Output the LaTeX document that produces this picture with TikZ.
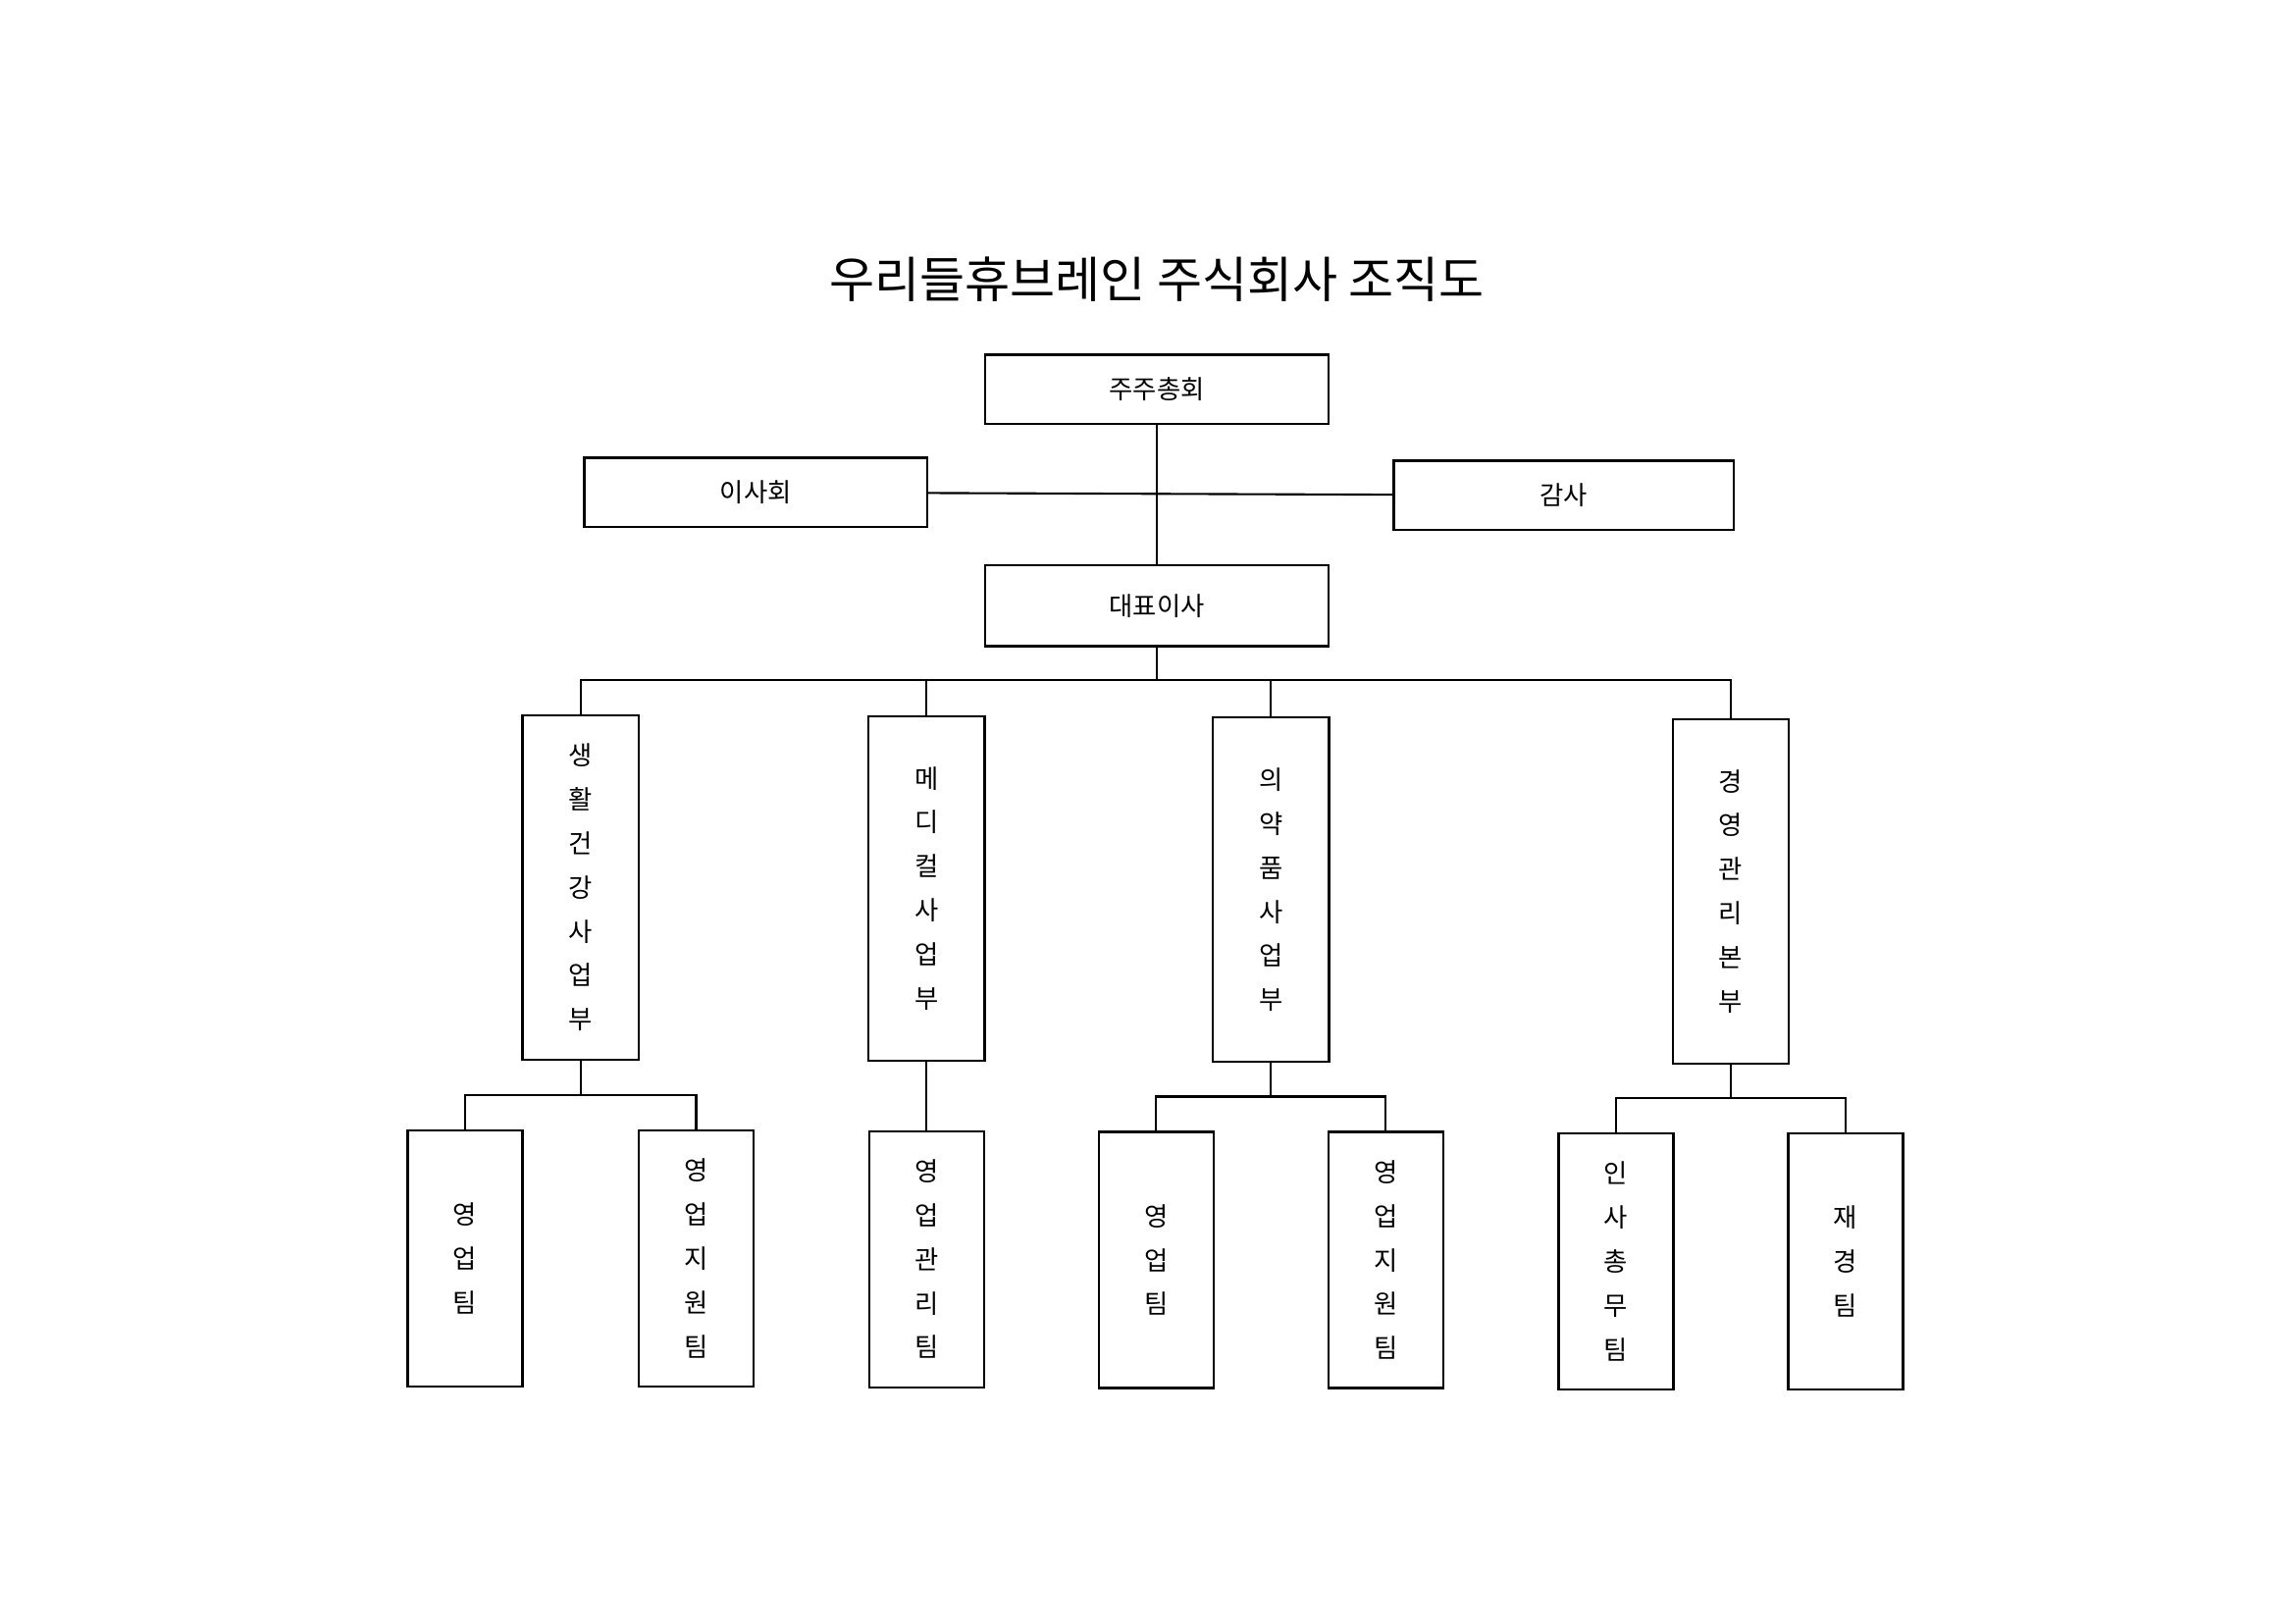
\documentclass[tikz,border=0pt]{standalone}
\usepackage{fontspec}
\setmainfont{Noto Sans CJK KR}
\begin{document}
\begin{tikzpicture}[x=0.02cm,y=-0.02cm,
    box/.style={draw,thick,inner sep=0pt,font=\fontsize{10}{17}\selectfont,align=center},
    wide/.style={box,minimum width=4.66cm,minimum height=0.94cm},
    dept/.style={box,minimum width=1.58cm,minimum height=4.68cm},
    team/.style={box,minimum width=1.56cm,minimum height=3.48cm}]
    \useasboundingbox (0,0) rectangle (1560,1103);
    \node[font=\fontsize{19}{22}\selectfont] (title) at (786,190) {우리들휴브레인 주식회사 조직도};
    \node[wide] (gm) at (786,264.5) {주주총회};
    \node[wide] (board) at (513.5,334.5) {이사회};
    \node[wide,minimum width=4.62cm] (audit) at (1062.5,336.5) {감사};
    \node[wide,minimum height=1.1cm] (ceo) at (786,411.5) {대표이사};
    \node[dept] (d1) at (394.5,603) {생\\활\\건\\강\\사\\업\\부};
    \node[dept] (d2) at (629.5,603.5) {메\\디\\컬\\사\\업\\부};
    \node[dept] (d3) at (863.5,604.5) {의\\약\\품\\사\\업\\부};
    \node[dept] (d4) at (1176,605.5) {경\\영\\관\\리\\본\\부};
    \node[team] (t1) at (316,855) {영\\업\\팀};
    \node[team] (t2) at (473,855) {영\\업\\지\\원\\팀};
    \node[team] (t3) at (629.5,855.5) {영\\업\\관\\리\\팀};
    \node[team] (t4) at (785.5,856) {영\\업\\팀};
    \node[team] (t5) at (941.5,856) {영\\업\\지\\원\\팀};
    \node[team] (t6) at (1098,857) {인\\사\\총\\무\\팀};
    \node[team] (t7) at (1254,857) {재\\경\\팀};
    % lines
    \coordinate (bus) at (786,462);
    \coordinate (sub1) at (394.5,744);
    \coordinate (sub3) at (863.5,745);
    \coordinate (sub4) at (1176,746);
    \draw[thick] (gm) -- (ceo);
    \draw[thick] (board) -- (audit);
    \draw[thick] (ceo) -- (bus);
    \draw[thick] (d1.north) |- (bus) -| (d4.north);
    \draw[thick] (d2.north) -- (d2.north|-bus);
    \draw[thick] (d3.north) -- (d3.north|-bus);
    \draw[thick] (d1.south) -- (sub1);
    \draw[thick] (t1.north) |- (sub1) -| (t2.north);
    \draw[thick] (d2.south) -- (t3.north);
    \draw[thick] (d3.south) -- (sub3);
    \draw[thick] (t4.north) |- (sub3) -| (t5.north);
    \draw[thick] (d4.south) -- (sub4);
    \draw[thick] (t6.north) |- (sub4) -| (t7.north);
\end{tikzpicture}
\end{document}
